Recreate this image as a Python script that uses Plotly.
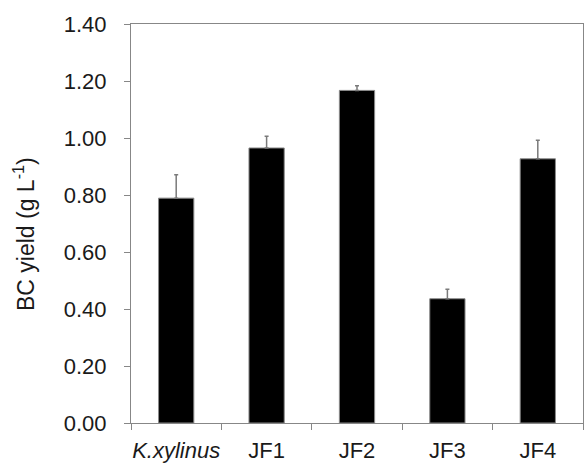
import plotly.graph_objects as go

categories = ["K.xylinus", "JF1", "JF2", "JF3", "JF4"]
tick_labels = ["<i>K.xylinus</i>", "JF1", "JF2", "JF3", "JF4"]
yield_values = [0.789, 0.965, 1.167, 0.436, 0.927]
yield_errors = [0.082, 0.041, 0.016, 0.033, 0.065]
y_ticks = [0.0, 0.2, 0.4, 0.6, 0.8, 1.0, 1.2, 1.4]

FONT = "Liberation Sans, Arial, sans-serif"
AXIS_GRAY = "#878787"

fig = go.Figure()
fig.add_trace(go.Bar(
    x=categories,
    y=yield_values,
    width=0.39,
    marker=dict(color="black", line=dict(color="#8a8a8a", width=1)),
    error_y=dict(
        type="data", symmetric=False, array=yield_errors,
        arrayminus=[0] * len(yield_errors),
        color="#7a7a7a", thickness=1.5, width=2,
    ),
    showlegend=False,
))

fig.update_layout(
    width=584, height=463,
    margin=dict(l=131, r=1, t=24, b=40, autoexpand=False),
    paper_bgcolor="white", plot_bgcolor="white",
    font=dict(family=FONT, size=22, color="#1a1a1a"),
    bargap=0.61,
)
fig.update_xaxes(
    type="category",
    categoryorder="array", categoryarray=categories,
    tickmode="array", tickvals=categories, ticktext=tick_labels,
    tickson="boundaries", tickangle=0,
    ticks="outside", ticklen=6, tickcolor=AXIS_GRAY, tickwidth=1,
    ticklabelstandoff=8,
    showline=True, linecolor=AXIS_GRAY, linewidth=1, mirror=True,
    showgrid=False, zeroline=False, automargin=False,
    tickfont=dict(size=22),
)
fig.update_yaxes(
    range=[0, 1.4],
    tickmode="array", tickvals=y_ticks,
    tickformat=".2f",
    ticks="outside", ticklen=6, tickcolor=AXIS_GRAY, tickwidth=1,
    ticklabelstandoff=13,
    showline=True, linecolor=AXIS_GRAY, linewidth=1, mirror=True,
    showgrid=False, zeroline=False, automargin=False,
    tickfont=dict(size=22),
)
fig.add_annotation(
    text="BC yield (g L<sup>-1</sup>)",
    xref="paper", yref="paper",
    x=(24 - 131) / 452, y=(423 - 234) / 399,
    xanchor="center", yanchor="middle",
    textangle=-90, showarrow=False,
    font=dict(size=23, family=FONT, color="#1a1a1a"),
)

fig.write_html("out.html")
